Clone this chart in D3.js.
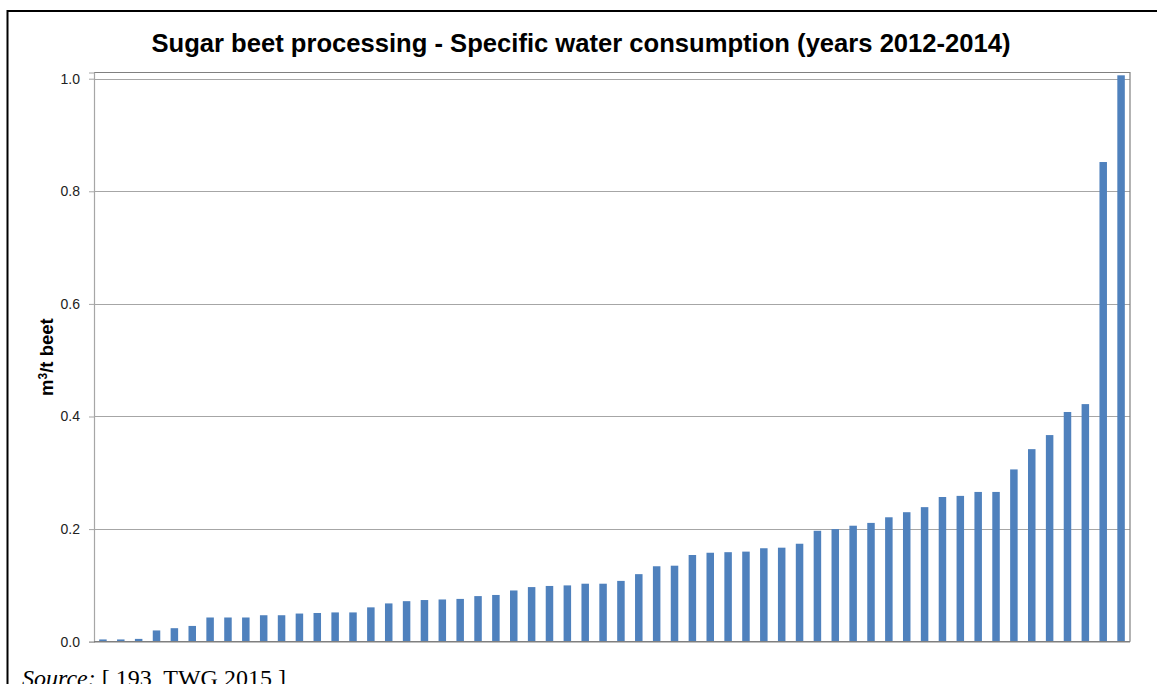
<!DOCTYPE html>
<html>
<head>
<meta charset="utf-8">
<script src="https://cdn.jsdelivr.net/npm/d3@7"></script>
<style>
  html, body { margin: 0; padding: 0; background: #fff; }
  svg { display: block; }
</style>
</head>
<body>
<svg id="chart" width="1157" height="684"></svg>
<script>
const titleText = "Sugar beet processing - Specific water consumption (years 2012-2014)";
const yAxisLabelParts = ["m", "3", "/t beet"];
const sourceLabel = "Source:";
const sourceRef = " [ 193, TWG 2015 ]";
const yTicks = [0, 0.2, 0.4, 0.6, 0.8, 1.0];
const installations = d3.range(1, 59).map(String);
const waterConsumption = [
  0.004, 0.004, 0.005, 0.020, 0.024, 0.028, 0.043, 0.043, 0.043, 0.047,
  0.047, 0.050, 0.051, 0.052, 0.052, 0.061, 0.068, 0.072, 0.074, 0.075,
  0.076, 0.081, 0.083, 0.091, 0.097, 0.099, 0.100, 0.103, 0.103, 0.108,
  0.120, 0.134, 0.135, 0.154, 0.158, 0.159, 0.160, 0.166, 0.167, 0.174,
  0.197, 0.200, 0.206, 0.211, 0.221, 0.230, 0.239, 0.257, 0.259, 0.266,
  0.266, 0.306, 0.342, 0.367, 0.408, 0.422, 0.852, 1.006
];

const svg = d3.select("#chart");
const plot = { left: 94, right: 1130, top: 72.5, bottom: 641.7 };
const sans = "Arial, 'Liberation Sans', sans-serif";

// outer frame
svg.append("line").attr("x1", 7.5).attr("x2", 1160).attr("y1", 11).attr("y2", 11)
  .attr("stroke", "#000").attr("stroke-width", 2);
svg.append("line").attr("x1", 7.5).attr("x2", 7.5).attr("y1", 10).attr("y2", 690)
  .attr("stroke", "#000").attr("stroke-width", 2);

const x = d3.scaleBand().domain(installations).range([plot.left, plot.right])
  .paddingInner(0.58).paddingOuter(0.29);
const y = d3.scaleLinear().domain([0, 1.011]).range([plot.bottom, plot.top]);

// gridlines
svg.append("g").selectAll("line").data(yTicks.filter(d => d > 0)).join("line")
  .attr("x1", plot.left).attr("x2", plot.right)
  .attr("y1", d => Math.round(y(d)) + 0.5).attr("y2", d => Math.round(y(d)) + 0.5)
  .attr("stroke", "#a6a6a6").attr("stroke-width", 1);

// plot border (top, right)
svg.append("path")
  .attr("d", `M${plot.left},${plot.top}H${plot.right}V${plot.bottom}`)
  .attr("fill", "none").attr("stroke", "#808080").attr("stroke-width", 1.2);

// bars
svg.append("g").selectAll("rect").data(waterConsumption).join("rect")
  .attr("x", (d, i) => x(installations[i]))
  .attr("width", x.bandwidth())
  .attr("y", d => y(d))
  .attr("height", d => y(0) - y(d))
  .attr("fill", "#4f81bd");

// y axis
const yAxis = d3.axisLeft(y).tickValues(yTicks).tickFormat(d3.format(".1f"))
  .tickSize(5).tickPadding(9);
const gy = svg.append("g").attr("transform", `translate(${plot.left},0)`).call(yAxis);
gy.select(".domain").attr("stroke", "#a6a6a6").attr("stroke-width", 1.2);
gy.selectAll(".tick line").attr("stroke", "#a6a6a6");
gy.selectAll(".tick text").attr("fill", "#222").style("font-family", sans).style("font-size", "14px");

// x axis baseline
svg.append("line").attr("x1", plot.left).attr("x2", plot.right)
  .attr("y1", y(0)).attr("y2", y(0)).attr("stroke", "#7f7f7f").attr("stroke-width", 1.6);

// title
svg.append("text").attr("x", 581).attr("y", 52).attr("text-anchor", "middle")
  .style("font-family", sans).style("font-weight", "bold")
  .style("font-size", "25.6px").attr("fill", "#000").text(titleText);

// y label
const yl = svg.append("text").attr("transform", `translate(53,${(plot.top + plot.bottom) / 2}) rotate(-90)`)
  .attr("text-anchor", "middle")
  .style("font-family", sans).style("font-weight", "bold")
  .style("font-size", "18.5px").attr("fill", "#000");
yl.append("tspan").text(yAxisLabelParts[0]);
yl.append("tspan").attr("dy", -6).style("font-size", "12px").text(yAxisLabelParts[1]);
yl.append("tspan").attr("dy", 6).text(yAxisLabelParts[2]);

// source
const src = svg.append("text").attr("x", 22).attr("y", 686)
  .style("font-family", "'Liberation Serif', 'Times New Roman', serif").style("font-size", "24px").attr("fill", "#000");
src.append("tspan").style("font-style", "italic").text(sourceLabel);
src.append("tspan").text(sourceRef);
</script>
</body>
</html>
